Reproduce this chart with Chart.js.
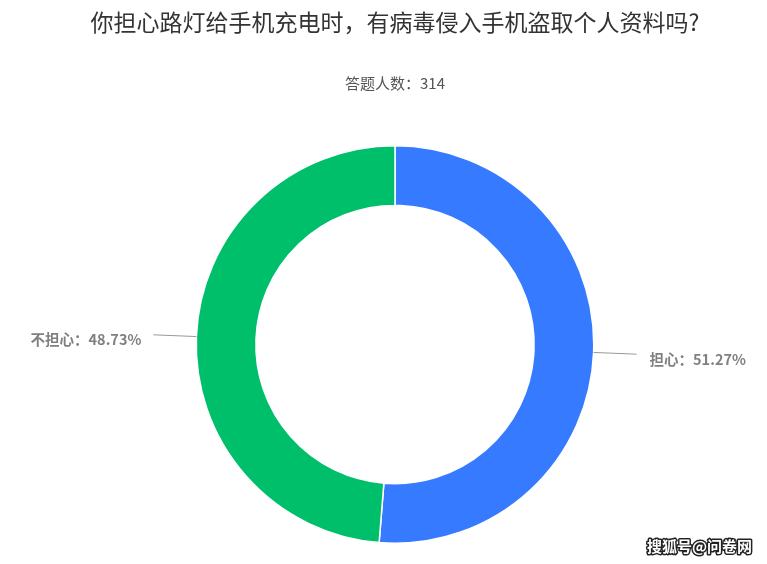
<!DOCTYPE html>
<html>
<head>
<meta charset="utf-8">
<script src="https://cdn.jsdelivr.net/npm/chart.js@4"></script>
<style>
  body { margin: 0; background: #fff; }
</style>
</head>
<body>
<canvas id="pieChart" width="767" height="564"></canvas>
<script>
// Survey data
const labels = ['担心', '不担心'];
const counts = [161, 153];
const colors = ['#367BFF', '#00BF6B'];
const titleText = '你担心路灯给手机充电时，有病毒侵入手机盗取个人资料吗?';
const total = counts.reduce((a, b) => a + b, 0);
const subtitleText = '答题人数：' + total;

// Leader lines + labels next to each slice
const sliceLabels = {
    id: 'sliceLabels',
    afterDatasetsDraw(chart) {
        const ctx = chart.ctx;
        const meta = chart.getDatasetMeta(0);
        ctx.save();
        meta.data.forEach((arc, i) => {
            const p = arc.getProps(['x', 'y', 'startAngle', 'endAngle', 'outerRadius'], true);
            const mid = (p.startAngle + p.endAngle) / 2;
            const x1 = p.x + Math.cos(mid) * p.outerRadius;
            const y1 = p.y + Math.sin(mid) * p.outerRadius;
            const x2 = p.x + Math.cos(mid) * (p.outerRadius + 43);
            const y2 = p.y + Math.sin(mid) * (p.outerRadius + 43);
            ctx.strokeStyle = '#999';
            ctx.lineWidth = 1;
            ctx.beginPath();
            ctx.moveTo(x1, y1);
            ctx.lineTo(x2, y2);
            ctx.stroke();

            const pct = (counts[i] / total * 100).toFixed(2);
            const right = Math.cos(mid) >= 0;
            ctx.font = 'bold 14.5px "Noto Sans CJK SC", sans-serif';
            ctx.fillStyle = '#808080';
            ctx.textBaseline = 'middle';
            ctx.textAlign = right ? 'left' : 'right';
            ctx.fillText(labels[i] + '：' + pct + '%', right ? x2 + 13 : x2 - 12, y2 + 5);
        });
        ctx.restore();
    },
    afterDraw(chart) {
        // watermark
        const ctx = chart.ctx;
        ctx.save();
        ctx.font = 'bold 15px "Noto Sans CJK SC", sans-serif';
        ctx.textAlign = 'right';
        ctx.textBaseline = 'middle';
        ctx.lineWidth = 3;
        ctx.strokeStyle = '#222';
        ctx.lineJoin = 'round';
        ctx.strokeText('搜狐号@问卷网', 752, 546);
        ctx.fillStyle = '#fff';
        ctx.fillText('搜狐号@问卷网', 752, 546);
        ctx.restore();
    }
};

new Chart(document.getElementById('pieChart'), {
    type: 'doughnut',
    data: {
        labels: labels,
        datasets: [{
            data: counts,
            backgroundColor: colors,
            borderColor: '#fff',
            borderWidth: 1.5
        }]
    },
    options: {
        responsive: false,
        animation: false,
        cutout: '70%',
        layout: {
            padding: { top: 0, bottom: 20, left: 23, right: 0 }
        },
        plugins: {
            legend: { display: false },
            tooltip: { enabled: false },
            title: {
                display: true,
                text: titleText,
                color: '#333',
                font: { size: 23, weight: 'normal', family: '"Noto Sans CJK SC", sans-serif', lineHeight: 1.2 },
                padding: { top: 8.2, bottom: 0 }
            },
            subtitle: {
                display: true,
                text: subtitleText,
                color: '#555',
                font: { size: 15, weight: 'normal', family: '"Noto Sans CJK SC", sans-serif', lineHeight: 1.2 },
                padding: { top: 38.2, bottom: 53 }
            }
        }
    },
    plugins: [sliceLabels]
});
</script>
</body>
</html>
